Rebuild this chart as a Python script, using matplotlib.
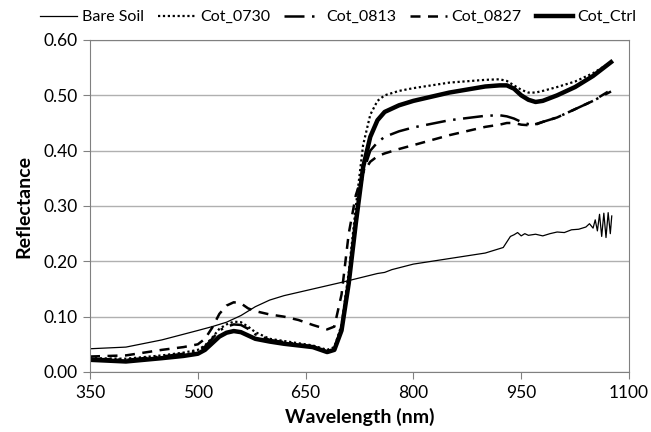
import matplotlib
matplotlib.use("Agg")
import matplotlib.pyplot as plt

plt.rcParams['font.family'] = ['Lato', 'DejaVu Sans']

wl = [350, 400, 450, 480, 500, 510, 520, 530, 540, 550, 560, 570, 580, 600, 620, 640, 660, 680, 690,
      700, 710, 720, 730, 740, 750, 760, 780, 800, 850, 900, 920, 930, 940, 950, 960, 970, 980,
      1000, 1025, 1050, 1075]

cot_ctrl = [0.022, 0.019, 0.025, 0.029, 0.033, 0.040, 0.052, 0.064, 0.071, 0.074, 0.072, 0.066, 0.060,
            0.055, 0.051, 0.048, 0.045, 0.036, 0.040, 0.075, 0.16, 0.27, 0.37, 0.425, 0.455, 0.47,
            0.482, 0.490, 0.505, 0.516, 0.518, 0.518, 0.512, 0.500, 0.492, 0.488, 0.490, 0.500,
            0.515, 0.535, 0.560]

cot_0730 = [0.025, 0.024, 0.030, 0.035, 0.040, 0.048, 0.062, 0.078, 0.086, 0.091, 0.090, 0.082, 0.072,
            0.060, 0.056, 0.052, 0.048, 0.040, 0.045, 0.085, 0.18, 0.30, 0.41, 0.465, 0.49, 0.500,
            0.508, 0.513, 0.523, 0.528, 0.529, 0.526, 0.518, 0.510, 0.505, 0.505, 0.508, 0.515,
            0.525, 0.540, 0.560]

cot_0813 = [0.024, 0.022, 0.028, 0.033, 0.038, 0.046, 0.060, 0.075, 0.082, 0.086, 0.085, 0.078, 0.068,
            0.058, 0.054, 0.050, 0.046, 0.038, 0.043, 0.080, 0.17, 0.28, 0.36, 0.40, 0.415, 0.425,
            0.435, 0.442, 0.455, 0.463, 0.464, 0.462, 0.458, 0.452, 0.448, 0.447, 0.452, 0.460,
            0.475, 0.490, 0.507]

cot_0827 = [0.028, 0.030, 0.040, 0.045, 0.050, 0.060, 0.080, 0.105, 0.120, 0.126, 0.124, 0.115, 0.110,
            0.104, 0.100, 0.094, 0.085, 0.077, 0.082, 0.14, 0.25, 0.32, 0.36, 0.38, 0.39, 0.395,
            0.403, 0.410, 0.428, 0.443, 0.447, 0.450, 0.450, 0.447, 0.446, 0.448, 0.452, 0.460,
            0.475, 0.490, 0.510]

soil_wl = [350, 400, 450, 500, 520, 540, 560, 580, 600, 620, 650, 700, 750, 760, 770, 800, 850, 900,
           925, 930, 935, 940, 945, 950, 955, 960, 970, 980, 990, 1000, 1010, 1020, 1030, 1040, 1045,
           1050, 1053, 1056, 1059, 1062, 1065, 1068, 1071, 1074, 1076]
bare_soil = [0.042, 0.045, 0.058, 0.075, 0.082, 0.090, 0.102, 0.118, 0.130, 0.138, 0.147, 0.162, 0.178,
             0.180, 0.185, 0.195, 0.205, 0.215, 0.225, 0.235, 0.245, 0.248, 0.252, 0.246, 0.250, 0.247,
             0.249, 0.246, 0.250, 0.253, 0.252, 0.257, 0.258, 0.262, 0.268, 0.260, 0.275, 0.255, 0.285,
             0.245, 0.287, 0.243, 0.288, 0.250, 0.282]

x_ticks = [350, 500, 650, 800, 950, 1100]
y_ticks = [0.0, 0.1, 0.2, 0.3, 0.4, 0.5, 0.6]

fig = plt.figure(figsize=(6.51, 4.32), dpi=100)
ax = fig.add_axes([90/651, 60/432, 539/651, 332/432])

ax.plot(soil_wl, bare_soil, color='black', lw=0.9, label='Bare Soil')
ax.plot(wl, cot_0730, color='black', lw=1.6, linestyle=(0, (1, 1.2)), label='Cot_0730')
ax.plot(wl, cot_0813, color='black', lw=1.8, linestyle=(0, (8, 3, 1, 3)), label='Cot_0813')
ax.plot(wl, cot_0827, color='black', lw=1.8, linestyle=(0, (4, 3)), label='Cot_0827')
ax.plot(wl, cot_ctrl, color='black', lw=3.2, label='Cot_Ctrl')

ax.set_xlim(350, 1100)
ax.set_ylim(0, 0.6)
ax.set_xticks(x_ticks)
ax.set_xticklabels([str(v) for v in x_ticks])
ax.set_yticks(y_ticks)
ax.set_yticklabels([f"{v:.2f}" for v in y_ticks])
ax.tick_params(labelsize=12.5, length=5, color='#808080', direction='out')
ax.tick_params(axis='x', pad=4)
ax.tick_params(axis='y', pad=4)
ax.grid(axis='y', color='#b0b0b0', lw=1)
ax.set_axisbelow(True)
for s in ['left', 'bottom']:
    ax.spines[s].set_color('#808080')
for s in ['top', 'right']:
    ax.spines[s].set_color('#808080')
    ax.spines[s].set_linewidth(0.8)

ax.set_xlabel('Wavelength (nm)', fontsize=14, fontweight='bold', labelpad=5)
ax.set_ylabel('Reflectance', fontsize=14, fontweight='bold', labelpad=8)

fig.legend(loc='upper center', bbox_to_anchor=(0.52, 1.01), ncol=5, frameon=False, fontsize=11.5,
           handlelength=2.3, columnspacing=0.9, handletextpad=0.3)

fig.savefig('out.png', dpi=100)
